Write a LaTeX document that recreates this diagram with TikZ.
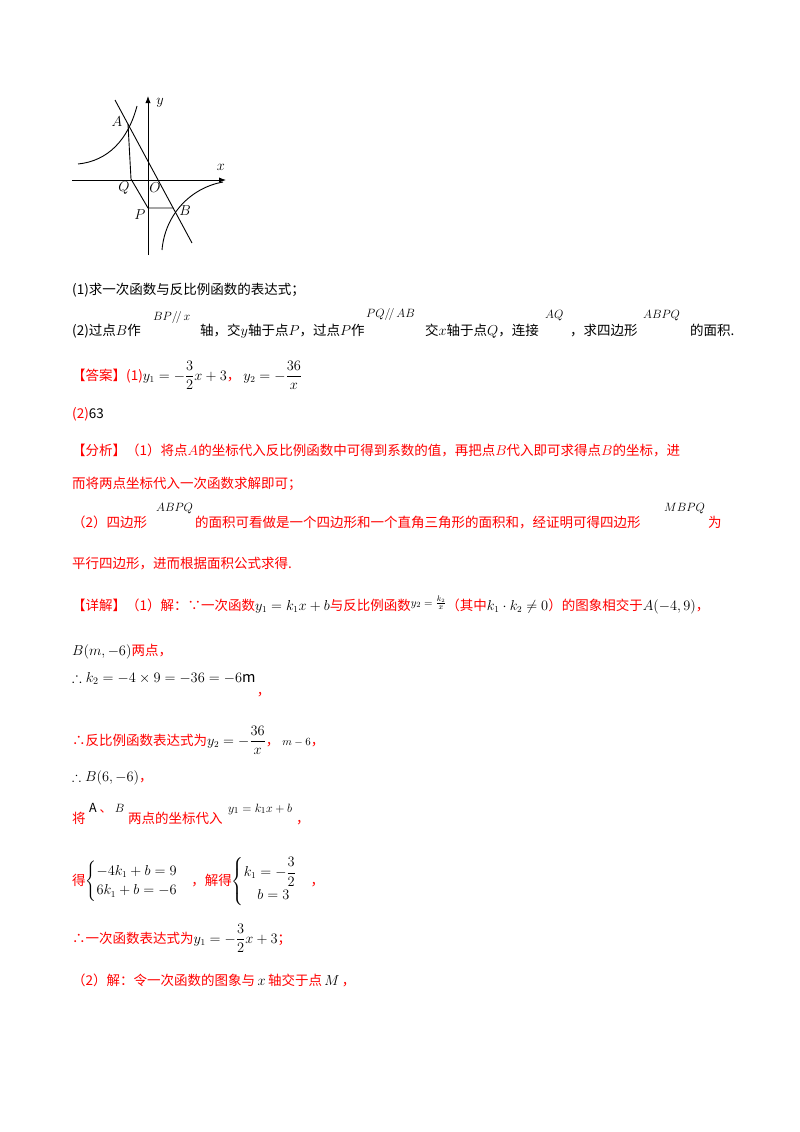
\documentclass[tikz,border=0pt]{standalone}
\usepackage{amsmath,amssymb}
\usepackage{fontspec}
\usetikzlibrary{arrows.meta}
\setmainfont{Noto Sans CJK SC}
\newcommand{\Rd}[1]{{\color{red}#1}}
\begin{document}
\begin{tikzpicture}[x=1pt,y=-1pt,
  tx/.style={anchor=base west,inner sep=0pt,font=\fontsize{13.5}{16}\selectfont},
  sm/.style={anchor=base west,inner sep=0pt,font=\fontsize{12.5}{14}\selectfont},
  lb/.style={inner sep=0pt,font=\fontsize{14}{16}\selectfont},
  ln/.style={line width=0.9pt}]
\useasboundingbox (0,0) rectangle (800,1132);
\fill[white] (0,0) rectangle (800,1132);
% graph
\coordinate (O) at (148,180);
\coordinate (xs) at (72,180); \coordinate (xe) at (226,180);
\coordinate (ys) at (148,255); \coordinate (ye) at (148,96);
\draw[ln,-{Latex[length=7pt]}] (xs) -- (xe);
\draw[ln,-{Latex[length=7pt]}] (ys) -- (ye);
\coordinate (A) at (128,124); \coordinate (B) at (173,208);
\coordinate (P) at (148,208); \coordinate (Q) at (131,179);
\coordinate (L1) at (115,100); \coordinate (L2) at (192,243);
\draw[ln] (L1) -- (L2);
\draw[ln] (A) -- (Q) -- (P) -- (B);
\draw[ln] (78,164) .. controls (108,161) and (128,140) .. (137,106);
\draw[ln] (162,250) .. controls (165,215) and (190,188) .. (223,182);
\node[lb] (ly) at (160,103) {$y$};
\node[lb] (lx) at (221,167) {$x$};
\node[lb] (lA) at (117,122) {$A$};
\node[lb] (lQ) at (124,188) {$Q$};
\node[lb] (lO) at (155,188) {$O$};
\node[lb] (lP) at (140,215) {$P$};
\node[lb] (lB) at (185,211) {$B$};
% text
\node[tx] (t1) at (72,294) {(1)求一次函数与反比例函数的表达式；};
\node[tx] (t2a) at (72,335) {(2)过点$B$作};
\node[sm] (t2b) at (153,320) {$BP/\!/\,x$};
\node[tx] (t2c) at (200,335) {轴，交$y$轴于点$P$，过点$P$作};
\node[sm] (t2d) at (366,317) {$PQ/\!/\,AB$};
\node[tx] (t2e) at (425,335) {交$x$轴于点$Q$，连接};
\node[sm] (t2f) at (545,318) {$AQ$};
\node[tx] (t2g) at (570,335) {，求四边形};
\node[sm] (t2h) at (643,318) {$ABPQ$};
\node[tx] (t2i) at (690,335) {的面积.};
\node[tx] (t3) at (72,380) {\Rd{【答案】(1)}$y_1=-\dfrac{3}{2}x+3$\Rd{，}\ $y_2=-\dfrac{36}{x}$};
\node[tx] (t4) at (72,418) {\Rd{(2)}63};
\node[tx] (t5) at (72,455) {\Rd{【分析】（1）将点$A$的坐标代入反比例函数中可得到系数的值，再把点$B$代入即可求得点$B$的坐标，进}};
\node[tx] (t6) at (72,488) {\Rd{而将两点坐标代入一次函数求解即可；}};
\node[tx] (t7a) at (72,527) {\Rd{（2）四边形}};
\node[sm] (t7b) at (156,511) {$ABPQ$};
\node[tx] (t7c) at (195,527) {\Rd{的面积可看做是一个四边形和一个直角三角形的面积和，经证明可得四边形}};
\node[sm] (t7d) at (664,511) {$MBPQ$};
\node[tx] (t7e) at (708,527) {\Rd{为}};
\node[tx] (t8) at (72,568) {\Rd{平行四边形，进而根据面积公式求得.}};
\node[tx] (t9) at (72,610) {\Rd{【详解】（1）解：∵一次函数}$y_1=k_1x+b$\Rd{与反比例函数}\raisebox{4pt}{\fontsize{11}{12}\selectfont$y_2=\frac{k_2}{x}$}\Rd{（其中}$k_1\cdot k_2\neq0$\Rd{）的图象相交于}$A(-4,9)$\Rd{，}};
\node[tx] (t10) at (72,655) {$B(m,-6)$\Rd{两点，}};
\node[tx,font=\fontsize{14.5}{16}\selectfont] (t11) at (72,682) {$\therefore k_2=-4\times9=-36=-6\mathrm{m}$};
\node[tx] (t11b) at ([xshift=1pt,yshift=-13pt]t11.base east) {\Rd{，}};
\node[tx] (t12) at (72,745) {\Rd{∴反比例函数表达式为}$y_2=-\dfrac{36}{x}$\Rd{，}\ {\fontsize{11}{12}\selectfont$m-6$}\Rd{，}};
\node[tx] (t13) at (72,781) {$\therefore B(6,-6)$\Rd{，}};
\node[tx] (t14a) at (72,823) {\Rd{将}};
\node[sm] (t14b) at (89,812) {A \Rd{、} $B$};
\node[tx] (t14c) at (128,823) {\Rd{两点的坐标代入}};
\node[sm] (t14d) at (228,812) {$y_1=k_1x+b$};
\node[tx] (t14e) at (296,823) {\Rd{，}};
\node[tx] (t15) at (72,885) {\Rd{得}$\begin{cases}-4k_1+b=9\\6k_1+b=-6\end{cases}$\Rd{，解得}$\begin{cases}k_1=-\dfrac{3}{2}\\ \quad b=3\end{cases}$\Rd{，}};
\node[tx] (t16) at (72,943) {\Rd{∴一次函数表达式为}$y_1=-\dfrac{3}{2}x+3$\Rd{；}};
\node[tx] (t17) at (72,985) {\Rd{（2）解：令一次函数的图象与}$\,x\,$\Rd{轴交于点}$\,M\,$\Rd{，}};
\end{tikzpicture}
\end{document}
